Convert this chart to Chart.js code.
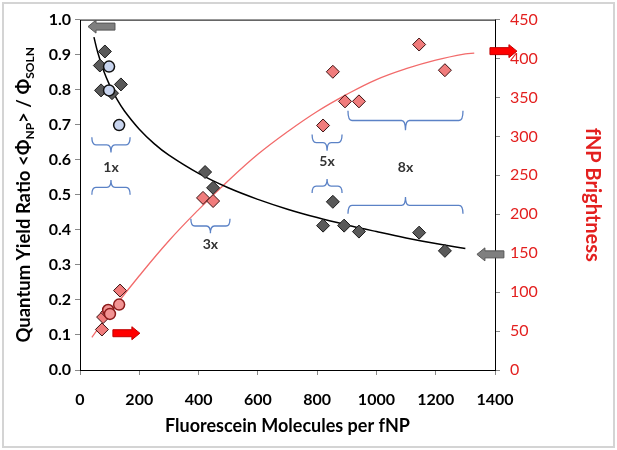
<!DOCTYPE html>
<html>
<head>
<meta charset="utf-8">
<script src="https://cdn.jsdelivr.net/npm/chart.js@4.4.0/dist/chart.umd.min.js"></script>
<style>
  body { margin: 0; background: #fff; }
  #wrap { width: 617px; height: 450px; }
</style>
</head>
<body>
<div id="wrap"><canvas id="chart" width="617" height="450"></canvas></div>
<script>
// Quantum yield ratio of the fNPs (dark diamonds, left axis)
const qyX = [67, 71, 84, 108, 138, 422, 449, 820, 853, 891, 941, 1144, 1231];
const qyY = [0.869, 0.798, 0.909, 0.79, 0.815, 0.565, 0.52, 0.412, 0.48, 0.412, 0.395, 0.392, 0.34];
// blue circles (left axis)
const qyCircX = [98, 98, 132];
const qyCircY = [0.866, 0.798, 0.699];
// fNP brightness (red diamonds, right axis)
const brX = [74, 78, 92, 135, 415, 449, 820, 853, 894, 941, 1144, 1231];
const brY = [52, 68, 74, 102, 221, 217, 314, 383, 345, 345, 418, 385];
// red circles (right axis)
const brCircX = [95, 101, 132];
const brCircY = [77, 72, 84];
// trend lines
const qyFitX = [47, 60, 80, 100, 125, 150, 200, 250, 300, 400, 500, 600, 700, 800, 900, 1000, 1100, 1200, 1300];
const qyFitY = [0.95, 0.906, 0.853, 0.813, 0.772, 0.739, 0.687, 0.646, 0.613, 0.561, 0.52, 0.487, 0.459, 0.435, 0.414, 0.395, 0.377, 0.361, 0.347];
const brFitX = [40, 100, 200, 300, 400, 500, 600, 700, 800, 900, 1000, 1100, 1200, 1300, 1330];
const brFitY = [42, 73, 121, 166, 206, 243, 277, 306, 332, 354, 373, 387, 398, 406, 407];

// axis ranges
const xRange = [0, 1400, 200];
const yRange = [0, 1, 0.1];
const y2Range = [0, 450, 50];

// blue braces: label, x span, top brace [ends, tip], bottom brace [tip, ends], label y (left axis units)
const braces = [
  { text: "1x", x1: 40, x2: 169, top: [0.664, 0.621], bottom: [0.542, 0.5], ly: 0.579 },
  { text: "3x", x1: 374, x2: 506, top: [0.432, 0.39], bottom: null, ly: 0.358 },
  { text: "5x", x1: 783, x2: 884, top: [0.672, 0.626], bottom: [0.545, 0.505], ly: 0.596 },
  { text: "8x", x1: 904, x2: 1292, top: [0.74, 0.684], bottom: [0.494, 0.446], ly: 0.579 },
];
// block arrows: tip x, tail x, y (left axis units)
const arrows = [
  { tip: 27, tail: 118, y: 0.98, fill: "#7f7f7f", line: "#555" },
  { tip: 202, tail: 111, y: 0.105, fill: "#ff0000", line: "#c00000" },
  { tip: 1474, tail: 1383, y: 0.91, fill: "#ff0000", line: "#c00000" },
  { tip: 1339, tail: 1430, y: 0.33, fill: "#7f7f7f", line: "#555" },
];

const pts = (xs, ys) => xs.map((x, i) => ({ x: x, y: ys[i] }));

function drawBrace(ctx, x1, x2, yEnd, yTip) {
  const m = (yEnd + yTip) / 2;
  const xm = (x1 + x2) / 2;
  const r = 4;
  ctx.beginPath();
  ctx.moveTo(x1, yEnd);
  ctx.quadraticCurveTo(x1, m, x1 + r, m);
  ctx.lineTo(xm - r, m);
  ctx.quadraticCurveTo(xm, m, xm, yTip);
  ctx.moveTo(xm, yTip);
  ctx.quadraticCurveTo(xm, m, xm + r, m);
  ctx.lineTo(x2 - r, m);
  ctx.quadraticCurveTo(x2, m, x2, yEnd);
  ctx.stroke();
}

function blockArrow(ctx, xTip, xTail, y, fill, line) {
  const dir = xTip < xTail ? -1 : 1;
  const neck = xTip - dir * 8;
  ctx.beginPath();
  ctx.moveTo(xTail, y - 3.5);
  ctx.lineTo(neck, y - 3.5);
  ctx.lineTo(neck, y - 6.5);
  ctx.lineTo(xTip, y);
  ctx.lineTo(neck, y + 6.5);
  ctx.lineTo(neck, y + 3.5);
  ctx.lineTo(xTail, y + 3.5);
  ctx.closePath();
  ctx.fillStyle = fill;
  ctx.fill();
  ctx.strokeStyle = line;
  ctx.lineWidth = 1;
  ctx.stroke();
}

const extras = {
  id: "extras",
  afterDraw(chart) {
    const { ctx, chartArea: a, scales } = chart;
    const sx = scales.x, sy = scales.y;
    ctx.save();
    // outer frame
    ctx.strokeStyle = "#d4d4d4";
    ctx.lineWidth = 2;
    ctx.strokeRect(3, 3, 611, 444);
    // plot box
    ctx.strokeStyle = "#000";
    ctx.lineWidth = 1;
    ctx.strokeRect(a.left + 0.5, a.top + 0.5, a.right - a.left, a.bottom - a.top);

    // braces
    ctx.strokeStyle = "#5b82c6";
    ctx.lineWidth = 1.3;
    ctx.fillStyle = "#333";
    ctx.font = "bold 14px Lato";
    ctx.textAlign = "center";
    ctx.textBaseline = "middle";
    braces.forEach(b => {
      const x1 = sx.getPixelForValue(b.x1), x2 = sx.getPixelForValue(b.x2);
      if (b.top) drawBrace(ctx, x1, x2, sy.getPixelForValue(b.top[0]), sy.getPixelForValue(b.top[1]));
      if (b.bottom) drawBrace(ctx, x1, x2, sy.getPixelForValue(b.bottom[1]), sy.getPixelForValue(b.bottom[0]));
      ctx.fillText(b.text, (x1 + x2) / 2, sy.getPixelForValue(b.ly));
    });

    // arrows
    arrows.forEach(r => {
      blockArrow(ctx, sx.getPixelForValue(r.tip), sx.getPixelForValue(r.tail), sy.getPixelForValue(r.y), r.fill, r.line);
    });

    // left axis title with subscripts
    const parts = [
      ["Quantum Yield Ratio <\u03A6", false],
      ["NP", true],
      ["> / \u03A6", false],
      ["SOLN", true],
    ];
    const big = "bold 18.5px Lato", small = "bold 12px Lato";
    let total = 0;
    parts.forEach(p => { ctx.font = p[1] ? small : big; total += ctx.measureText(p[0]).width; });
    ctx.translate(24, (a.top + a.bottom) / 2);
    ctx.rotate(-Math.PI / 2);
    ctx.textAlign = "left";
    ctx.textBaseline = "alphabetic";
    ctx.fillStyle = "#000";
    let cx = -total / 2;
    parts.forEach(p => {
      ctx.font = p[1] ? small : big;
      ctx.fillText(p[0], cx, p[1] ? 10 : 6);
      cx += ctx.measureText(p[0]).width;
    });
    ctx.restore();
  }
};

new Chart(document.getElementById("chart"), {
  type: "scatter",
  data: {
    datasets: [
      {
        label: "QY fNP",
        data: pts(qyX, qyY),
        yAxisID: "y",
        pointStyle: "rectRot",
        pointRadius: 6.5,
        backgroundColor: "#595959",
        borderColor: "#1a1a1a",
        borderWidth: 1,
        order: 1,
      },
      {
        label: "QY circles",
        data: pts(qyCircX, qyCircY),
        yAxisID: "y",
        pointStyle: "circle",
        pointRadius: 5.5,
        backgroundColor: "#c9d5ef",
        borderColor: "#111",
        borderWidth: 1.5,
        order: 0,
      },
      {
        label: "Brightness",
        data: pts(brX, brY),
        yAxisID: "y2",
        pointStyle: "rectRot",
        pointRadius: 6.5,
        backgroundColor: "#f07c7c",
        borderColor: "#3b1010",
        borderWidth: 1,
        order: 1,
      },
      {
        label: "Brightness circles",
        data: pts(brCircX, brCircY),
        yAxisID: "y2",
        pointStyle: "circle",
        pointRadius: 5.5,
        backgroundColor: "#f29393",
        borderColor: "#8b1a1a",
        borderWidth: 1.5,
        order: 0,
      },
      {
        type: "line",
        label: "QY fit",
        data: pts(qyFitX, qyFitY),
        yAxisID: "y",
        borderColor: "#000",
        borderWidth: 1.5,
        pointRadius: 0,
        tension: 0.4,
        order: 2,
      },
      {
        type: "line",
        label: "Brightness fit",
        data: pts(brFitX, brFitY),
        yAxisID: "y2",
        borderColor: "#f26b6b",
        borderWidth: 1.3,
        pointRadius: 0,
        tension: 0.4,
        order: 2,
      },
    ],
  },
  options: {
    responsive: false,
    animation: false,
    layout: { padding: { top: 16 } },
    plugins: { legend: { display: false }, tooltip: { enabled: false } },
    scales: {
      x: {
        type: "linear",
        min: xRange[0], max: xRange[1],
        afterFit: s => { s.height = 80; },
        ticks: { stepSize: xRange[2], color: "#000", callback: v => String(v), font: { family: "Lato", size: 16, weight: "bold" }, padding: 15 },
        grid: { drawOnChartArea: false, tickLength: 5, color: "#888" },
        border: { display: false },
        title: { display: true, text: "Fluorescein Molecules per fNP", color: "#000", font: { family: "Lato", size: 18, weight: "bold" }, padding: { bottom: 13 } },
      },
      y: {
        position: "left",
        min: yRange[0], max: yRange[1],
        afterFit: s => { s.width = 80; },
        ticks: { stepSize: yRange[2], color: "#000", callback: v => v.toFixed(1), font: { family: "Lato", size: 16, weight: "bold" }, padding: 4 },
        grid: { drawOnChartArea: false, tickLength: 5, color: "#888" },
        border: { display: false },
      },
      y2: {
        position: "right",
        min: y2Range[0], max: y2Range[1],
        afterFit: s => { s.width = 122; },
        ticks: { stepSize: y2Range[2], color: "#e3201f", font: { family: "Lato", size: 16 }, padding: 10 },
        grid: { drawOnChartArea: false, tickLength: 5, color: "#888" },
        border: { display: false },
        title: { display: true, text: "fNP Brightness", color: "#e3201f", font: { family: "Lato", size: 20, weight: "bold" }, padding: { top: 13 } },
      },
    },
  },
  plugins: [extras],
});
</script>
</body>
</html>
